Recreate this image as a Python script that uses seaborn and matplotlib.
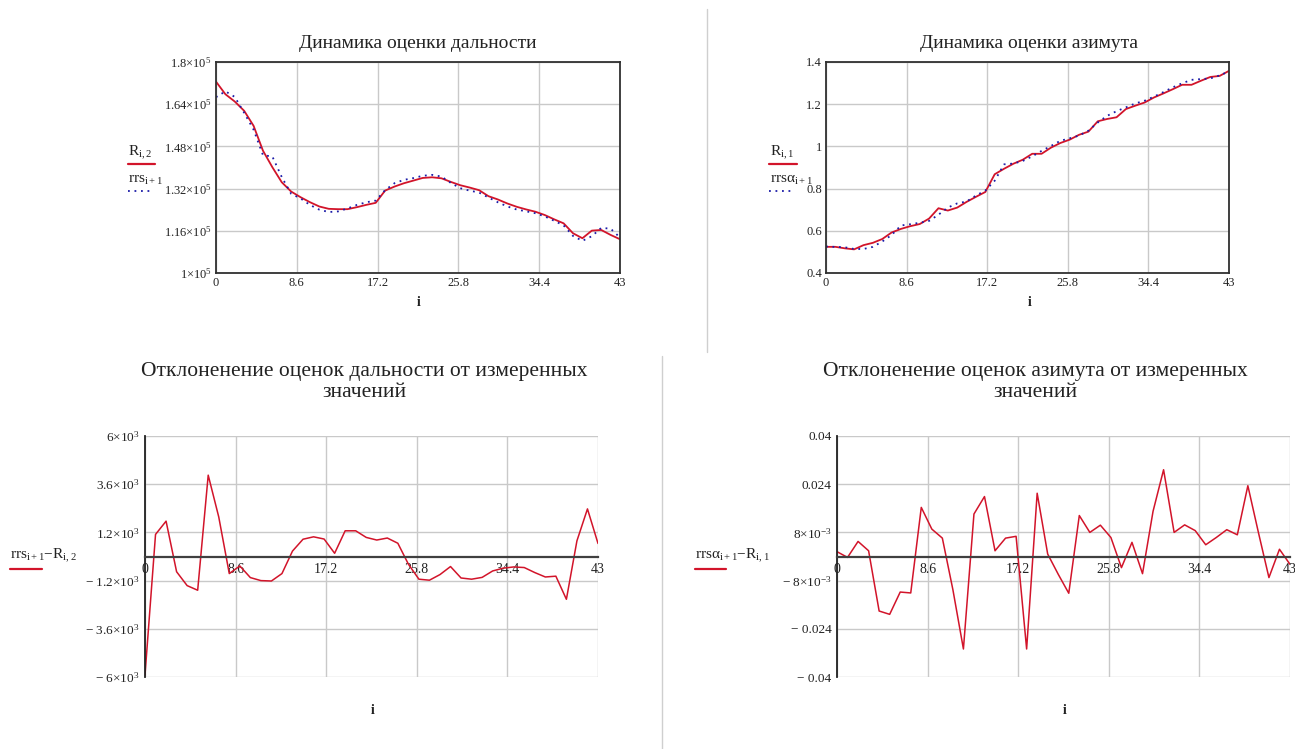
import numpy as np
import pandas as pd
import matplotlib
matplotlib.use("Agg")
import matplotlib.pyplot as plt
from matplotlib.lines import Line2D
import seaborn as sns

# ---------------- data ----------------
idx = list(range(44))

range_meas = [172560, 167780, 165000, 161480, 155800, 146370, 140100, 134400, 130880, 128740,
              126850, 125210, 124330, 124200, 124200, 124960, 125840, 126600, 131250, 132770,
              134030, 135030, 136040, 136290, 135900, 134530, 133280, 132400, 131400, 129130,
              127880, 126370, 125110, 124110, 123230, 121970, 120340, 118830, 115060, 113180,
              116070, 116320, 114440, 112800]
range_est = [166660, 168880, 166760, 160720, 154350, 144690, 144150, 136370, 130030, 128270,
             125800, 124010, 123110, 123350, 124470, 125820, 126820, 127470, 131410, 134050,
             135310, 135980, 136860, 137210, 136560, 134150, 132150, 131220, 130500, 128630,
             126810, 125240, 124070, 123390, 122650, 121450, 119790, 118030, 114040, 112200,
             113940, 117100, 116810, 113450]
range_dev = [-5900, 1100, 1760, -760, -1450, -1680, 4050, 1970, -850, -470,
             -1050, -1200, -1220, -850, 270, 860, 980, 870, 160, 1280,
             1280, 950, 820, 920, 660, -380, -1130, -1180, -900, -500,
             -1070, -1130, -1040, -720, -580, -520, -550, -800, -1020, -980,
             -2130, 780, 2370, 650]

az_meas = [0.524, 0.524, 0.517, 0.512, 0.532, 0.543, 0.561, 0.592, 0.609, 0.622,
           0.632, 0.658, 0.707, 0.696, 0.710, 0.737, 0.761, 0.784, 0.868, 0.894,
           0.918, 0.937, 0.965, 0.965, 0.994, 1.016, 1.032, 1.055, 1.070, 1.119,
           1.130, 1.138, 1.177, 1.193, 1.208, 1.232, 1.251, 1.271, 1.292, 1.292,
           1.311, 1.329, 1.334, 1.358]
az_est = [0.5256, 0.5237, 0.5220, 0.5139, 0.5139, 0.5238, 0.5492, 0.5799, 0.6253, 0.6311,
          0.6381, 0.6470, 0.6763, 0.7101, 0.7299, 0.7389, 0.7671, 0.7907, 0.8373, 0.9150,
          0.9188, 0.9311, 0.9528, 0.9786, 1.0020, 1.0264, 1.0383, 1.0513, 1.0747, 1.1133,
          1.1450, 1.1668, 1.1850, 1.2035, 1.2166, 1.2359, 1.2573, 1.2799, 1.2992, 1.3155,
          1.3190, 1.3220, 1.3364, 1.3554]
az_dev = [0.0016, -0.0003, 0.0050, 0.0019, -0.0181, -0.0192, -0.0118, -0.0121, 0.0163, 0.0091,
          0.0061, -0.0110, -0.0307, 0.0141, 0.0199, 0.0019, 0.0061, 0.0067, -0.0307, 0.0210,
          0.0008, -0.0059, -0.0122, 0.0136, 0.0080, 0.0104, 0.0063, -0.0037, 0.0047, -0.0057,
          0.0150, 0.0288, 0.0080, 0.0105, 0.0086, 0.0039, 0.0063, 0.0089, 0.0072, 0.0235,
          0.0080, -0.0070, 0.0024, -0.0026]

x_ticks = [0, 8.6, 17.2, 25.8, 34.4, 43]
x_tick_labels = ["0", "8.6", "17.2", "25.8", "34.4", "43"]

range_yticks = [1.0e5, 1.16e5, 1.32e5, 1.48e5, 1.64e5, 1.8e5]
range_ylabels = ["1×10$^{5}$", "1.16×10$^{5}$", "1.32×10$^{5}$", "1.48×10$^{5}$",
                 "1.64×10$^{5}$", "1.8×10$^{5}$"]
az_yticks = [0.4, 0.6, 0.8, 1.0, 1.2, 1.4]
az_ylabels = ["0.4", "0.6", "0.8", "1", "1.2", "1.4"]
rdev_yticks = [-6000, -3600, -1200, 1200, 3600, 6000]
rdev_ylabels = ["− 6×10$^{3}$", "− 3.6×10$^{3}$", "− 1.2×10$^{3}$", "1.2×10$^{3}$",
                "3.6×10$^{3}$", "6×10$^{3}$"]
adev_yticks = [-0.04, -0.024, -0.008, 0.008, 0.024, 0.04]
adev_ylabels = ["− 0.04", "− 0.024", "− 8×10$^{-3}$", "8×10$^{-3}$", "0.024", "0.04"]

titles = ["Динамика оценки дальности", "Динамика оценки азимута",
          "Отклоненение оценок дальности от измеренных\nзначений",
          "Отклоненение оценок азимута от измеренных\nзначений"]

# ---------------- style ----------------
sns.set_style("white")
plt.rcParams['font.family'] = ['Liberation Serif', 'DejaVu Serif']
plt.rcParams['mathtext.fontset'] = 'custom'
plt.rcParams['mathtext.rm'] = 'Liberation Serif'
plt.rcParams['mathtext.it'] = 'Liberation Serif:italic'
plt.rcParams['mathtext.bf'] = 'Liberation Serif:bold'

RED = '#d2142a'
BLUE = '#1c1ca8'
GRID = '#c9c9c9'
TXT = '#222222'

W, H = 1295, 749
fig = plt.figure(figsize=(W / 100, H / 100), dpi=100)


def px_axes(l, t, r, b):
    return fig.add_axes([l / W, 1 - b / H, (r - l) / W, (b - t) / H])


def fx(x):
    return x / W


def fy(y):
    return 1 - y / H


ax1 = px_axes(216, 62, 620, 273)
ax2 = px_axes(826, 62, 1229, 273)
ax3 = px_axes(145, 436, 598, 677)
ax4 = px_axes(837, 436, 1290, 677)

df_r = pd.DataFrame({"i": idx, "R": range_meas, "rrs": range_est, "dev": range_dev})
df_a = pd.DataFrame({"i": idx, "R": az_meas, "rrs": az_est, "dev": az_dev})

# top plots
for ax, df, yt, yl in [(ax1, df_r, range_yticks, range_ylabels),
                       (ax2, df_a, az_yticks, az_ylabels)]:
    sns.lineplot(data=df, x="i", y="R", ax=ax, color=RED, lw=1.3, legend=False)
    sns.lineplot(data=df, x="i", y="rrs", ax=ax, color=BLUE, lw=1.3,
                 linestyle=(0, (1, 2.6)), legend=False)
    ax.set_xlim(0, 43)
    ax.set_ylim(yt[0], yt[-1])
    ax.set_xticks(x_ticks)
    ax.set_xticklabels(x_tick_labels)
    ax.set_yticks(yt)
    ax.set_yticklabels(yl)
    ax.grid(True, color=GRID, lw=1.0)
    ax.tick_params(length=0, labelsize=9, colors=TXT, pad=3)
    ax.set_xlabel("")
    ax.set_ylabel("")
    for s in ax.spines.values():
        s.set_color('#303030')
        s.set_linewidth(1.3)
        s.set_visible(True)

# bottom plots
for ax, df, yt, yl in [(ax3, df_r, rdev_yticks, rdev_ylabels),
                       (ax4, df_a, adev_yticks, adev_ylabels)]:
    sns.lineplot(data=df, x="i", y="dev", ax=ax, color=RED, lw=1.1, legend=False)
    ax.set_xlim(0, 43)
    ax.set_ylim(yt[0], yt[-1])
    ax.set_xticks(x_ticks)
    ax.set_xticklabels(x_tick_labels)
    ax.set_yticks(yt)
    ax.set_yticklabels(yl)
    ax.grid(True, color=GRID, lw=1.0)
    ax.set_axisbelow(True)
    ax.spines['top'].set_visible(False)
    ax.spines['right'].set_visible(False)
    ax.spines['bottom'].set_position(('data', 0))
    ax.spines['bottom'].set_color('#404040')
    ax.spines['bottom'].set_linewidth(1.6)
    ax.spines['left'].set_color('#202020')
    ax.spines['left'].set_linewidth(1.3)
    ax.tick_params(axis='x', direction='inout', length=7, width=1.1, colors='#202020',
                   labelsize=10, labelcolor=TXT, pad=1)
    ax.tick_params(axis='y', direction='inout', length=6, width=1.0, colors='#202020',
                   labelsize=9.5, labelcolor=TXT, pad=1)
    ax.set_xlabel("")
    ax.set_ylabel("")

# titles
fig.text(fx(418), fy(43), titles[0], ha='center', va='center', fontsize=14, color=TXT)
fig.text(fx(1029), fy(43), titles[1], ha='center', va='center', fontsize=14, color=TXT)
fig.text(fx(364), fy(382), titles[2], ha='center', va='center', fontsize=15.5, color=TXT,
         linespacing=1.1)
fig.text(fx(1035), fy(382), titles[3], ha='center', va='center', fontsize=15.5, color=TXT,
         linespacing=1.1)

# x labels
for x, y in [(419, 303), (1030, 303), (373, 711), (1065, 711)]:
    fig.text(fx(x), fy(y), "i", ha='center', va='center', fontsize=10, color=TXT,
             fontweight='bold')

# legends (Mathcad style: label above line sample)
fig.text(fx(128), fy(153), r"R$_{\mathrm{i,2}}$", ha='left', va='center', fontsize=11, color=TXT)
fig.add_artist(Line2D([fx(128), fx(155)], [fy(164), fy(164)], color=RED, lw=1.6))
fig.text(fx(128), fy(180), r"rrs$_{\mathrm{i+1}}$", ha='left', va='center', fontsize=11, color=TXT)
fig.add_artist(Line2D([fx(128), fx(154)], [fy(191), fy(191)], color=BLUE, lw=1.3,
                      linestyle=(0, (1, 2.6))))

fig.text(fx(770), fy(153), r"R$_{\mathrm{i,1}}$", ha='left', va='center', fontsize=11, color=TXT)
fig.add_artist(Line2D([fx(769), fx(797)], [fy(164), fy(164)], color=RED, lw=1.6))
fig.text(fx(770), fy(180), r"rrsα$_{\mathrm{i+1}}$", ha='left', va='center', fontsize=11, color=TXT)
fig.add_artist(Line2D([fx(769), fx(795)], [fy(191), fy(191)], color=BLUE, lw=1.3,
                      linestyle=(0, (1, 2.6))))

fig.text(fx(10), fy(556), r"rrs$_{\mathrm{i+1}}$−R$_{\mathrm{i,2}}$", ha='left', va='center',
         fontsize=11, color=TXT)
fig.add_artist(Line2D([fx(10), fx(42)], [fy(569), fy(569)], color=RED, lw=1.6))
fig.text(fx(695), fy(556), r"rrsα$_{\mathrm{i+1}}$−R$_{\mathrm{i,1}}$", ha='left', va='center',
         fontsize=11, color=TXT)
fig.add_artist(Line2D([fx(695), fx(726)], [fy(569), fy(569)], color=RED, lw=1.6))

# page separators
fig.add_artist(Line2D([fx(707), fx(707)], [fy(9), fy(352)], color='#cfcfcf', lw=1.0))
fig.add_artist(Line2D([fx(662), fx(662)], [fy(356), fy(749)], color='#cfcfcf', lw=1.0))

fig.savefig("out.png", dpi=100, facecolor='white')
